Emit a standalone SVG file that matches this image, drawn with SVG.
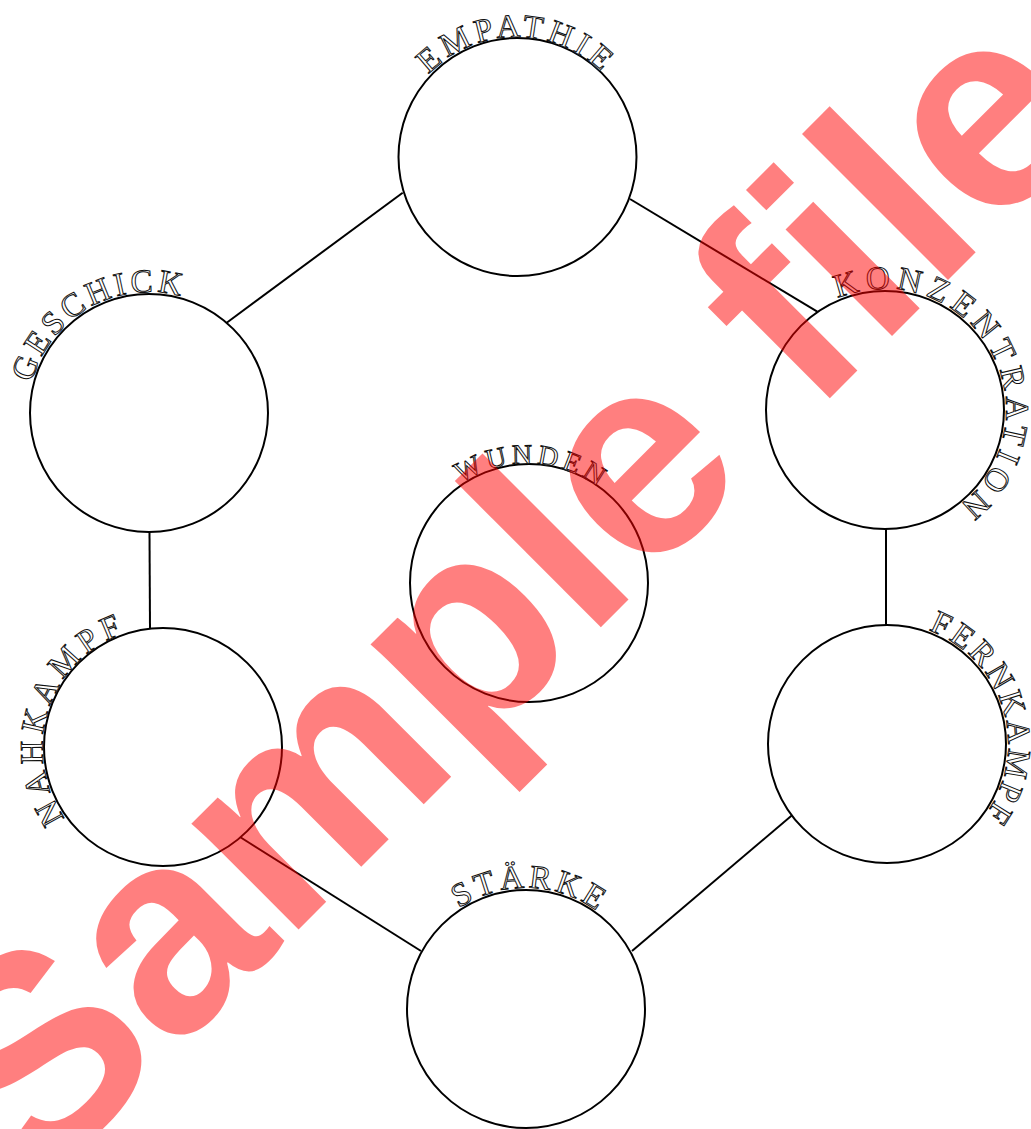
<svg xmlns="http://www.w3.org/2000/svg" xmlns:xlink="http://www.w3.org/1999/xlink" width="1031" height="1129" viewBox="0 0 1031 1129">
<style>
.node{fill:#fff;stroke:#000;stroke-width:2}
.edge{stroke:#000;stroke-width:2;fill:none}
.lbl{font-family:"Liberation Serif",serif;font-size:33px;fill:#fff;stroke:#111;stroke-width:1}
.wm{font-family:"Liberation Sans",Arial,sans-serif;font-weight:bold;font-size:285px;fill:#ff0000;fill-opacity:0.5}
</style>
<defs>
<path id="p-emp" d="M428.5,74.5 A121,121 0 0 1 605.5,239.5 A121,121 0 0 1 428.5,74.5"/>
<path id="p-ges" d="M31.8,382.9 A121,121 0 0 1 266.2,443.1 A121,121 0 0 1 31.8,382.9"/>
<path id="p-kon" d="M837.7,298.6 A121,121 0 0 1 932.3,521.4 A121,121 0 0 1 837.7,298.6"/>
<path id="p-wun" d="M460.5,483.3 A121,121 0 0 1 597.5,682.7 A121,121 0 0 1 460.5,483.3"/>
<path id="p-nah" d="M65.1,818.1 A121,121 0 0 1 260.9,675.9 A121,121 0 0 1 65.1,818.1"/>
<path id="p-fer" d="M928.4,630.3 A121,121 0 0 1 845.6,857.7 A121,121 0 0 1 928.4,630.3"/>
<path id="p-sta" d="M458.9,908.3 A121,121 0 0 1 593.1,1109.7 A121,121 0 0 1 458.9,908.3"/>
</defs>
<g id="connectors">
<line class="edge" x1="402.7" y1="192.7" x2="226.7" y2="322.7"/>
<line class="edge" x1="630" y1="199" x2="817.3" y2="311.7"/>
<line class="edge" x1="149.5" y1="532" x2="150" y2="629"/>
<line class="edge" x1="886" y1="529" x2="886" y2="626"/>
<line class="edge" x1="240" y1="837" x2="421" y2="951"/>
<line class="edge" x1="632" y1="951" x2="810" y2="800"/>
</g>
<g id="empathie"><circle class="node" cx="517.5" cy="157" r="119"/><text class="lbl" letter-spacing="4.5"><textPath href="#p-emp" xlink:href="#p-emp">EMPATHIE</textPath></text></g>
<g id="geschick"><circle class="node" cx="149" cy="413" r="119"/><text class="lbl" letter-spacing="3.7"><textPath href="#p-ges" xlink:href="#p-ges">GESCHICK</textPath></text></g>
<g id="konzentration"><circle class="node" cx="885" cy="410" r="119"/><text class="lbl" letter-spacing="5.9"><textPath href="#p-kon" xlink:href="#p-kon">KONZENTRATION</textPath></text></g>
<g id="wunden"><circle class="node" cx="529" cy="583" r="119"/><text class="lbl" style="font-size:28px" letter-spacing="4.3"><textPath href="#p-wun" xlink:href="#p-wun">WUNDEN</textPath></text></g>
<g id="nahkampf"><circle class="node" cx="163" cy="747" r="119"/><text class="lbl" letter-spacing="5.4"><textPath href="#p-nah" xlink:href="#p-nah">NAHKAMPF</textPath></text></g>
<g id="fernkampf"><circle class="node" cx="887" cy="744" r="119"/><text class="lbl" letter-spacing="3.2"><textPath href="#p-fer" xlink:href="#p-fer">FERNKAMPF</textPath></text></g>
<g id="staerke"><circle class="node" cx="526" cy="1009" r="119"/><text class="lbl" letter-spacing="3.6"><textPath href="#p-sta" xlink:href="#p-sta">STÄRKE</textPath></text></g>
<text class="wm" transform="translate(38,1190) rotate(-45)">Sample file</text>
</svg>
